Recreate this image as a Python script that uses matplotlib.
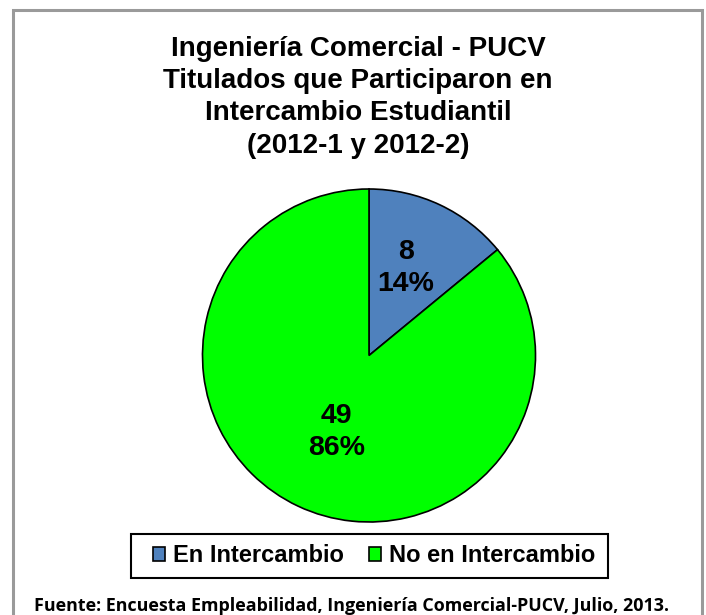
import numpy as np
import matplotlib.pyplot as plt
from matplotlib.patches import Rectangle

# datos del grafico
categorias = ['En Intercambio', 'No en Intercambio']
valores = [8, 49]
colores = ['#4F81BD', '#00FF00']

titulo = ('Ingeniería Comercial - PUCV\nTitulados que Participaron en\n'
          'Intercambio Estudiantil\n(2012-1 y 2012-2)')
fuente = 'Fuente: Encuesta Empleabilidad, Ingeniería Comercial-PUCV, Julio, 2013.'

W, H = 706, 615
fig = plt.figure(figsize=(W / 100, H / 100), dpi=100)

# borde gris del area del grafico
fig.add_artist(Rectangle((13 / W, -0.05), (702 - 13) / W, 1.05 - 10 / H,
                         transform=fig.transFigure, fill=False,
                         edgecolor='#9a9a9a', linewidth=2.2))

fig.text(358 / W, 1 - 36 / H, titulo, ha='center', va='top',
         fontsize=20, fontweight='bold', family='Liberation Sans',
         linespacing=1.31)

# torta
cx, cy, r = 369, 355.5, 166.5
ax = fig.add_axes([(cx - r) / W, (H - cy - r) / H, 2 * r / W, 2 * r / H])
total = sum(valores)


def etiqueta(pct):
    n = round(pct * total / 100)
    return '%d\n%d%%' % (n, round(pct))


wedges, textos, autotextos = ax.pie(
    valores, colors=colores, startangle=90, counterclock=False,
    autopct=etiqueta, pctdistance=0.55,
    wedgeprops=dict(edgecolor='black', linewidth=1.2))

# distancia de la etiqueta al centro, como en el original
distancias = [0.57, 0.50]
for w, t, d in zip(wedges, autotextos, distancias):
    ang = np.deg2rad((w.theta1 + w.theta2) / 2 + 2.3)
    t.set_position((d * np.cos(ang), d * np.sin(ang)))
    t.set_fontsize(20.5)
    t.set_fontweight('bold')
    t.set_family('Liberation Sans')
    t.set_linespacing(1.3)
ax.set_aspect('auto')
ax.set_xlim(-1, 1)
ax.set_ylim(-1, 1)

# leyenda: recuadro negro aparte, con mas margen a la izquierda
fig.add_artist(Rectangle((131 / W, 1 - 578 / H), 477 / W, 44 / H,
                         transform=fig.transFigure, fill=False,
                         edgecolor='black', linewidth=1.5))
leg = fig.legend(wedges, categorias, loc='center', ncol=2,
                 bbox_to_anchor=(374 / W, 1 - 556 / H),
                 prop=dict(family='Liberation Sans', weight='bold', size=17),
                 frameon=False, handlelength=0.5, handleheight=0.5,
                 handletextpad=0.34, columnspacing=1.06,
                 borderpad=0, borderaxespad=0)

fig.text(352 / W, 1 - 611 / H, fuente, ha='center', va='baseline',
         fontsize=12.9, fontweight='bold', family='Open Sans')

fig.savefig('out.png', dpi=100)
